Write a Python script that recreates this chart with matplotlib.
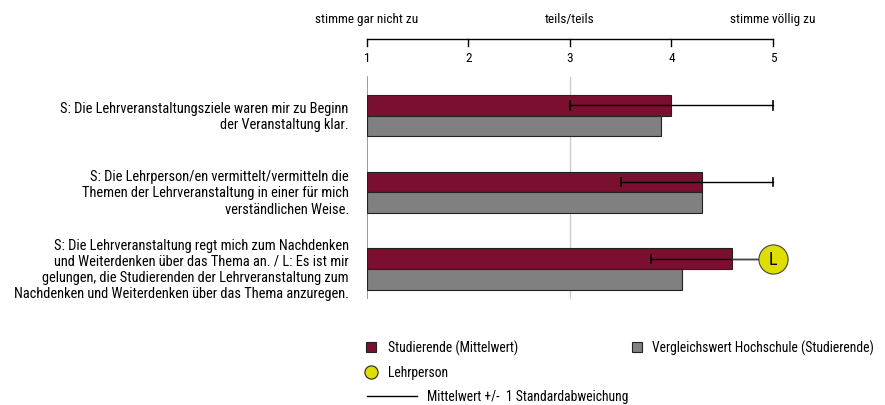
import matplotlib.pyplot as plt
import matplotlib.patches as mpatches
from matplotlib.lines import Line2D
from matplotlib import font_manager

# pick a condensed sans if one is installed
installed = {f.name for f in font_manager.fontManager.ttflist}
candidates = ['Roboto Condensed', 'Liberation Sans Narrow', 'Archivo Narrow',
              'PT Sans Narrow', 'Fira Sans Condensed', 'IBM Plex Sans Condensed',
              'Encode Sans Condensed', 'Barlow Semi Condensed', 'DejaVu Sans']
font = next(c for c in candidates if c in installed)
plt.rcParams['font.family'] = [font, 'DejaVu Sans']

items = [
    "S: Die Lehrveranstaltungsziele waren mir zu Beginn\nder Veranstaltung klar.",
    "S: Die Lehrperson/en vermittelt/vermitteln die\nThemen der Lehrveranstaltung in einer für mich\nverständlichen Weise.",
    "S: Die Lehrveranstaltung regt mich zum Nachdenken\nund Weiterdenken über das Thema an. / L: Es ist mir\ngelungen, die Studierenden der Lehrveranstaltung zum\nNachdenken und Weiterdenken über das Thema anzuregen.",
]
studierende = [4.0, 4.3, 4.6]
hochschule = [3.9, 4.3, 4.1]
err_low = [3.0, 3.5, 3.8]
err_high = [5.0, 5.0, 5.0]
lehrperson = [None, None, 5.0]

ticks = [1, 2, 3, 4, 5]
scale_labels = {1: "stimme gar nicht zu", 3: "teils/teils", 5: "stimme völlig zu"}

red = "#7b0f30"
gray = "#808080"
yellow = "#dede00"
fs = 9.5
fs_items = 10.4
fs_leg = 9.8

fig = plt.figure(figsize=(8.85, 4.06), dpi=100)
ax = fig.add_axes([367 / 885, 106 / 406, 406 / 885, 260 / 406])
ax.set_xlim(1, 5)
ax.set_ylim(2.39, -1.0)
ax.axis('off')

h = 0.27
cap = 0.055
# vertical guide lines
ax.plot([1, 1], [-0.51, 2.39], color="#888888", lw=1.2, zorder=1)
ax.plot([3, 3], [-0.51, 2.39], color="#cccccc", lw=1.0, zorder=1)

for i, label in enumerate(items):
    ax.barh(i - h / 2, studierende[i] - 1, left=1, height=h, color=red,
            edgecolor="#222222", lw=0.8, zorder=2)
    ax.barh(i + h / 2, hochschule[i] - 1, left=1, height=h, color=gray,
            edgecolor="#222222", lw=0.8, zorder=2)
    ax.plot([err_low[i], err_high[i]], [i - h / 2, i - h / 2], color="black", lw=1.0,
            zorder=3, clip_on=False)
    ax.plot([err_low[i]] * 2, [i - h / 2 - cap, i - h / 2 + cap], color="black", lw=1.2, zorder=3)
    if lehrperson[i] is None:
        ax.plot([err_high[i]] * 2, [i - h / 2 - cap, i - h / 2 + cap], color="black", lw=1.2,
                zorder=3, clip_on=False)
    else:
        ax.plot([studierende[i], lehrperson[i]], [i - h / 2] * 2, color="#444444", lw=1.0, zorder=3)
        ax.plot(lehrperson[i], i - h / 2, 'o', ms=21, mfc=yellow, mec="#444444", mew=0.8,
                zorder=4, clip_on=False)
        ax.text(lehrperson[i], i - h / 2, "L", ha='center', va='center', fontsize=13, zorder=5)
    ax.text(0.82, i, label, ha='right', va='center', fontsize=fs_items, linespacing=1.2)

# top scale
ax.plot([1, 5], [-1.0, -1.0], color="black", lw=1.0, clip_on=False)
for t in ticks:
    ax.plot([t, t], [-1.0, -0.91], color="black", lw=1.0, clip_on=False)
    ax.text(t, -0.76, str(t), ha='center', va='center', fontsize=fs)
for t, s in scale_labels.items():
    ax.text(t, -1.27, s, ha='center', va='center', fontsize=fs)

# legend
def px(x, y):
    return x / 885, 1 - y / 406

fig.add_artist(mpatches.Rectangle(px(366, 353), 10 / 885, 10 / 406, facecolor=red,
                                  edgecolor="#222222", lw=0.8))
fig.text(*px(388, 348), "Studierende (Mittelwert)", fontsize=fs_leg, va='center')
fig.add_artist(mpatches.Rectangle(px(632, 353), 10 / 885, 10 / 406, facecolor=gray,
                                  edgecolor="#222222", lw=0.8))
fig.text(*px(652, 348), "Vergleichswert Hochschule (Studierende)", fontsize=fs_leg, va='center')
fig.add_artist(Line2D([px(371, 0)[0]], [px(0, 373)[1]], marker='o', ms=9.5, mfc=yellow,
                      mec="#222222", mew=0.8))
fig.text(*px(388, 373), "Lehrperson", fontsize=fs_leg, va='center')
fig.add_artist(Line2D([px(367, 0)[0], px(417, 0)[0]], [px(0, 397)[1]] * 2, color="black", lw=1.0))
fig.text(*px(427, 397), "Mittelwert +/-  1 Standardabweichung", fontsize=fs_leg, va='center')

fig.savefig("out.png", dpi=100)
